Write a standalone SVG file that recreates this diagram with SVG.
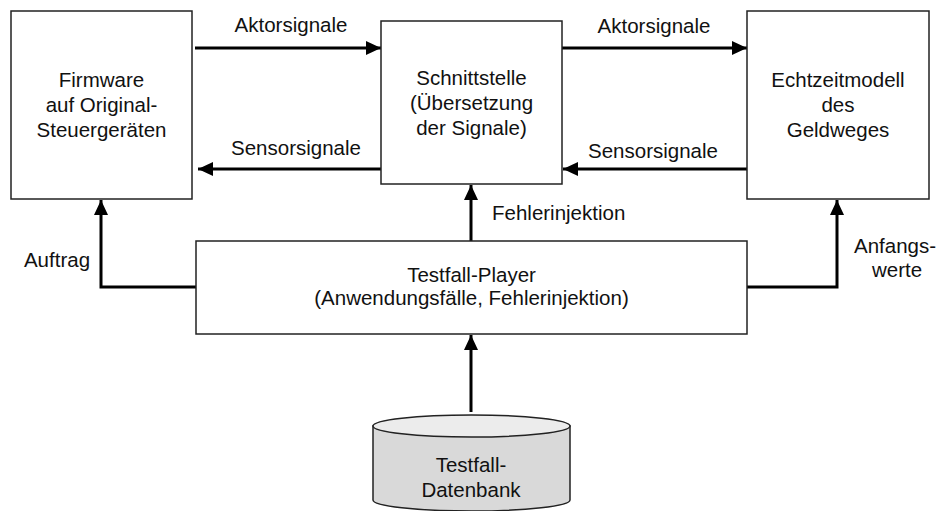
<svg xmlns="http://www.w3.org/2000/svg" width="937" height="511" viewBox="0 0 937 511">
  <style>
    .box { fill: #ffffff; stroke: #222222; stroke-width: 1.5; }
    .lbl { font-family: "Liberation Sans", Arial, sans-serif; font-size: 20.5px; fill: #111111; text-anchor: middle; }
    .wire { fill: none; stroke: #000000; stroke-width: 3; marker-end: url(#head); }
    .db-body { fill: #d9d9d9; stroke: #222222; stroke-width: 1.5; }
    .db-top { fill: #ececec; stroke: #222222; stroke-width: 1.5; }
  </style>
  <defs>
    <marker id="head" markerUnits="userSpaceOnUse" markerWidth="16" markerHeight="16" viewBox="0 0 16 16" refX="15" refY="8" orient="auto">
      <path d="M0,1 L15,8 L0,15 Z" fill="#000000"/>
    </marker>
  </defs>

  <rect width="937" height="511" fill="#ffffff"/>

  <!-- Connectors -->
  <g id="connectors">
    <path class="wire" d="M195,48 L381,48"/>
    <path class="wire" d="M381,169 L198,169"/>
    <path class="wire" d="M562,48 L747,48"/>
    <path class="wire" d="M747,169 L563,169"/>
    <path class="wire" d="M196,287 L101,287 L101,200"/>
    <path class="wire" d="M471,241 L471,185"/>
    <path class="wire" d="M747,287 L837,287 L837,200"/>
    <path class="wire" d="M471,412 L471,335"/>
    <text class="lbl" x="291" y="32">Aktorsignale</text>
    <text class="lbl" x="296" y="155">Sensorsignale</text>
    <text class="lbl" x="654" y="33">Aktorsignale</text>
    <text class="lbl" x="653" y="158">Sensorsignale</text>
    <text class="lbl" x="492" y="220" style="text-anchor:start">Fehlerinjektion</text>
    <text class="lbl" x="57" y="267">Auftrag</text>
    <text class="lbl" x="895" y="253">Anfangs-</text>
    <text class="lbl" x="897" y="277">werte</text>
  </g>

  <!-- Nodes -->
  <g id="firmware">
    <rect class="box" x="11" y="11" width="181" height="188"/>
    <text class="lbl" x="101.5" y="87">Firmware</text>
    <text class="lbl" x="101.5" y="112">auf Original-</text>
    <text class="lbl" x="101.5" y="137">Steuergeräten</text>
  </g>

  <g id="schnittstelle">
    <rect class="box" x="381" y="21" width="181" height="163"/>
    <text class="lbl" x="471.5" y="85">Schnittstelle</text>
    <text class="lbl" x="471.5" y="110">(Übersetzung</text>
    <text class="lbl" x="471.5" y="135">der Signale)</text>
  </g>

  <g id="echtzeitmodell">
    <rect class="box" x="747" y="11" width="182" height="188"/>
    <text class="lbl" x="838" y="87">Echtzeitmodell</text>
    <text class="lbl" x="838" y="112">des</text>
    <text class="lbl" x="838" y="137">Geldweges</text>
  </g>

  <g id="testfall-player">
    <rect class="box" x="196" y="241" width="551" height="93"/>
    <text class="lbl" x="471.5" y="282">Testfall-Player</text>
    <text class="lbl" x="471.5" y="305">(Anwendungsfälle, Fehlerinjektion)</text>
  </g>

  <g id="datenbank">
    <path class="db-body" d="M373,426 L373,500 A98.5,11 0 0 0 570,500 L570,426 Z"/>
    <ellipse class="db-top" cx="471.5" cy="426" rx="98.5" ry="11"/>
    <text class="lbl" x="471" y="472">Testfall-</text>
    <text class="lbl" x="471" y="497">Datenbank</text>
  </g>
</svg>
